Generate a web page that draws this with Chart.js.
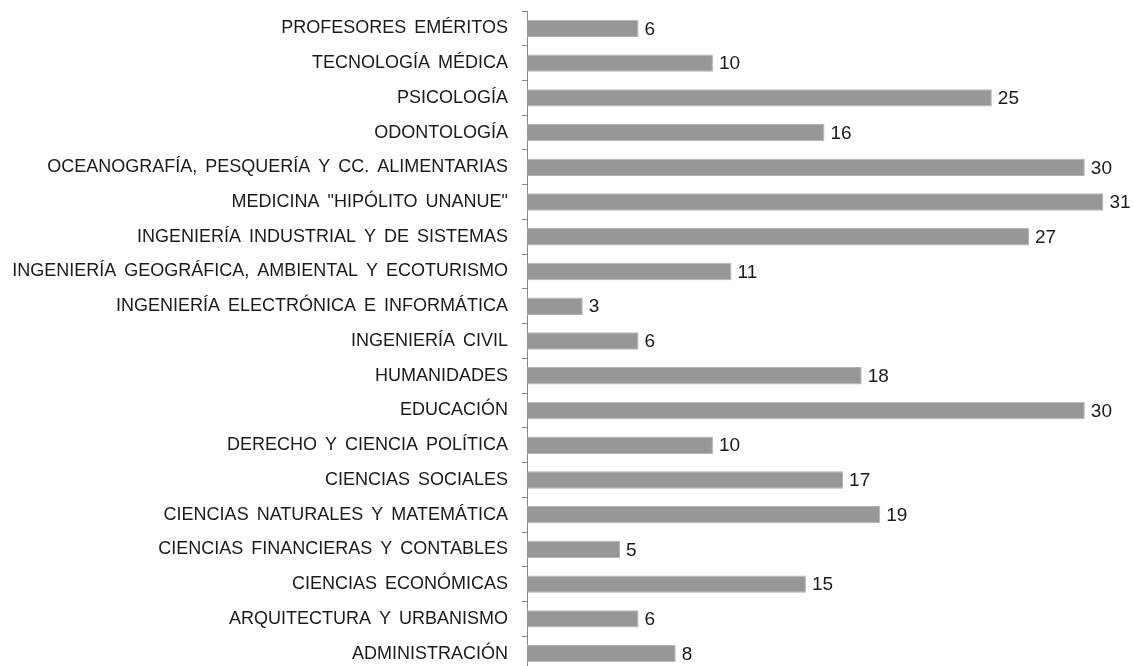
<!DOCTYPE html>
<html>
<head>
<meta charset="utf-8">
<script src="https://cdn.jsdelivr.net/npm/chart.js@4.4.0/dist/chart.umd.min.js"></script>
<style>
  html, body { margin: 0; padding: 0; background: #fff; overflow: hidden; }
  #wrap { width: 1135px; height: 671px; }
</style>
</head>
<body>
<div id="wrap"><canvas id="facChart"></canvas></div>
<script>
const categories = [
    'PROFESORES EMÉRITOS',
    'TECNOLOGÍA MÉDICA',
    'PSICOLOGÍA',
    'ODONTOLOGÍA',
    'OCEANOGRAFÍA, PESQUERÍA Y CC. ALIMENTARIAS',
    'MEDICINA "HIPÓLITO UNANUE"',
    'INGENIERÍA INDUSTRIAL Y DE SISTEMAS',
    'INGENIERÍA GEOGRÁFICA, AMBIENTAL Y ECOTURISMO',
    'INGENIERÍA ELECTRÓNICA E INFORMÁTICA',
    'INGENIERÍA CIVIL',
    'HUMANIDADES',
    'EDUCACIÓN',
    'DERECHO Y CIENCIA POLÍTICA',
    'CIENCIAS SOCIALES',
    'CIENCIAS NATURALES Y MATEMÁTICA',
    'CIENCIAS FINANCIERAS Y CONTABLES',
    'CIENCIAS ECONÓMICAS',
    'ARQUITECTURA Y URBANISMO',
    'ADMINISTRACIÓN'
];
const values = [6, 10, 25, 16, 30, 31, 27, 11, 3, 6, 18, 30, 10, 17, 19, 5, 15, 6, 8];

// espacios entre palabras más anchos, como en el original
const wideSpaces = {
    id: 'wideSpaces',
    beforeDraw(chart) { chart.ctx.wordSpacing = '3px'; },
    afterDraw(chart) { chart.ctx.wordSpacing = '0px'; }
};

// etiquetas de valor al final de cada barra
const valueLabels = {
    id: 'valueLabels',
    afterDatasetsDraw(chart) {
        const ctx = chart.ctx;
        const meta = chart.getDatasetMeta(0);
        ctx.save();
        ctx.font = '19px "Liberation Sans", Arial, sans-serif';
        ctx.fillStyle = '#1a1a1a';
        ctx.textBaseline = 'middle';
        ctx.textAlign = 'left';
        meta.data.forEach(function (bar, i) {
            ctx.fillText(String(values[i]), bar.x + 6, bar.y + 1);
        });
        ctx.restore();
    }
};

const ctx = document.getElementById('facChart').getContext('2d');
const facChart = new Chart(ctx, {
    type: 'bar',
    data: {
        labels: categories,
        datasets: [{
            data: values,
            backgroundColor: '#979797',
            borderColor: '#b3b3b3',
            borderWidth: 1,
            categoryPercentage: 1,
            barPercentage: 0.5
        }]
    },
    options: {
        indexAxis: 'y',
        responsive: true,
        maintainAspectRatio: false,
        animation: false,
        layout: { padding: { top: 11, bottom: 0, left: 0, right: 13 } },
        plugins: {
            legend: { display: false },
            tooltip: { enabled: false }
        },
        scales: {
            x: {
                display: false,
                min: 0,
                max: 32
            },
            y: {
                afterFit(scale) {
                    scale.width = 527;
                    scale.paddingTop = 0;
                    scale.paddingBottom = 0;
                },
                grid: {
                    offset: true,
                    drawOnChartArea: false,
                    drawTicks: true,
                    tickLength: 5,
                    color: '#888888'
                },
                border: { display: true, color: '#888888', width: 1 },
                ticks: {
                    color: '#1a1a1a',
                    padding: 14,
                    font: { family: '"Liberation Sans", Arial, sans-serif', size: 18 }
                }
            }
        }
    },
    plugins: [wideSpaces, valueLabels]
});
</script>
</body>
</html>
